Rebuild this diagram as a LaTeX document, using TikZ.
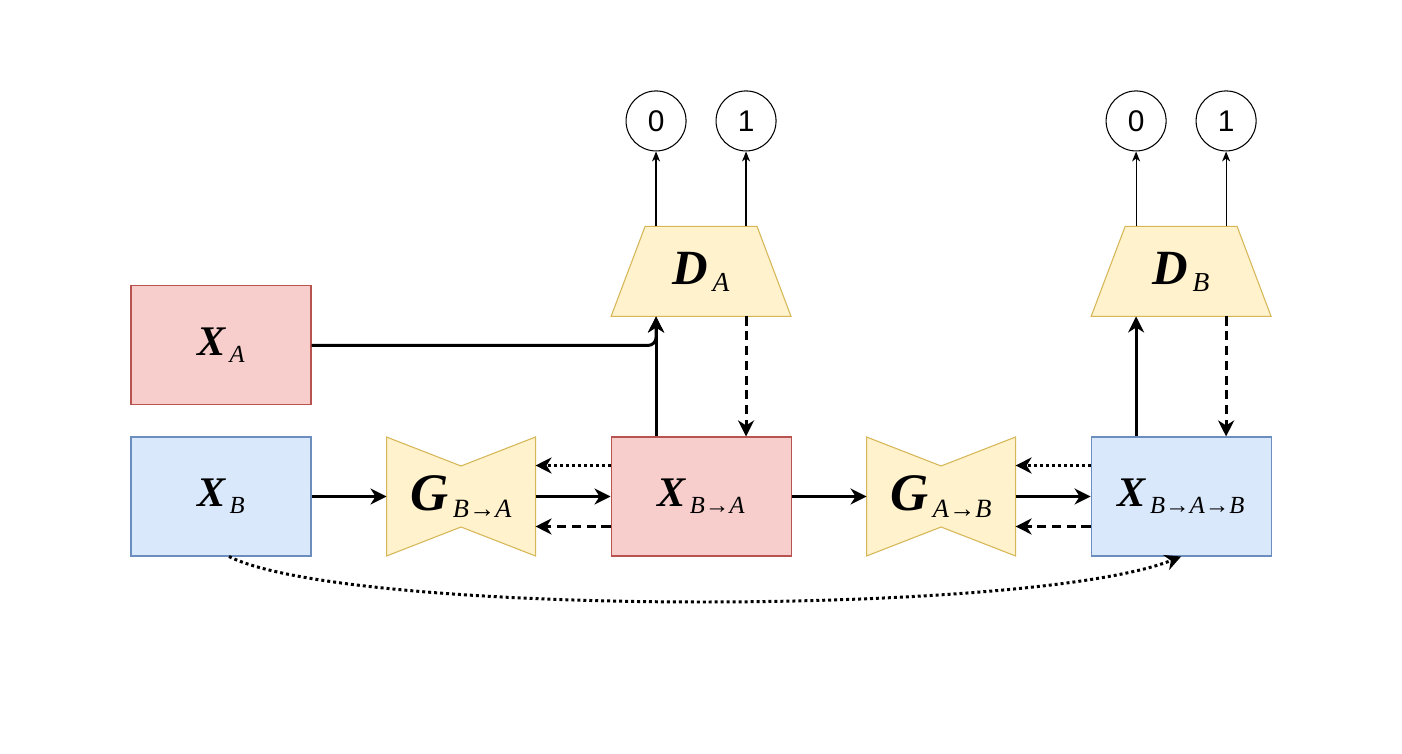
\documentclass[tikz,border=0pt]{standalone}
\usepackage{fontspec}
\setmainfont{Liberation Serif}
\setsansfont{Liberation Sans}
\usepackage{tikz}
\usetikzlibrary{
  arrows.meta,
  positioning,
  calc,
  backgrounds
}
\definecolor{DomainRed}{HTML}{F8CECC}
\definecolor{DomainRedLine}{HTML}{B85450}
\definecolor{DomainBlue}{HTML}{DAE8FC}
\definecolor{DomainBlueLine}{HTML}{6C8EBF}
\definecolor{NetYellow}{HTML}{FFF2CC}
\definecolor{NetYellowLine}{HTML}{D6B656}
\newcommand{\symsub}[3]{{\bfseries\itshape #1}\kern1.2pt\raisebox{-2pt}{\fontsize{#3}{#3}\selectfont\itshape #2}}
\tikzset{
  redbox/.style={draw=DomainRedLine,fill=DomainRed,line width=0.3pt,minimum width=1.8cm,minimum height=1.19cm,font=\fontsize{12}{14}\selectfont},
  bluebox/.style={draw=DomainBlueLine,fill=DomainBlue,line width=0.3pt,minimum width=1.8cm,minimum height=1.19cm,font=\fontsize{12}{14}\selectfont},
  gennode/.style={minimum width=1.49cm,minimum height=1.19cm,inner sep=0pt,outer sep=0pt,font=\fontsize{15}{17}\selectfont},
  discnode/.style={minimum width=1.8cm,minimum height=0.9cm,inner sep=0pt,outer sep=0pt,font=\fontsize{14}{16}\selectfont},
  netshape/.style={draw=NetYellowLine,fill=NetYellow,line width=0.3pt},
  outnode/.style={circle,draw,line width=0.3pt,minimum size=0.6cm,inner sep=0pt,font=\sffamily\fontsize{8.5}{10}\selectfont},
  fwdarrow/.style={-{Stealth[length=1.6mm,width=1.6mm,inset=0.5mm]},line width=0.85pt},
  backarrow/.style={fwdarrow,dash pattern=on 2.6pt off 1.6pt},
  cyclearrow/.style={fwdarrow,dash pattern=on 0.85pt off 0.85pt},
  probarrow/.style={-{Stealth[length=1mm,width=0.8mm,inset=0.3mm]},line width=0.35pt}
}

\begin{document}
\begin{tikzpicture}[node distance=7.5mm and 7.5mm]
\useasboundingbox (0,0) rectangle (14.02,-7.54);
\node[bluebox] (xb) at (2.21,-4.965) {\symsub{X}{B}{7}};
\node[redbox, above=3.1mm of xb] (xa) {\symsub{X}{A}{7}};
\node[gennode, right=of xb] (gba) {\symsub{G}{B→A}{7.5}};
\node[redbox, right=of gba] (xba) {\symsub{X}{B→A}{7}};
\node[gennode, right=of xba] (gab) {\symsub{G}{A→B}{7.5}};
\node[bluebox, right=of gab] (xbab) {\symsub{X}{B→A→B}{7}};
\node[discnode, above=12mm of xba] (da) {\symsub{D}{A}{7.8}};
\node[discnode, above=12mm of xbab] (db) {\symsub{D}{B}{7.8}};
\node[outnode, above=7.5mm of da.north, xshift=-4.5mm] (da0) {0};
\node[outnode, above=7.5mm of da.north, xshift=4.5mm] (da1) {1};
\node[outnode, above=7.5mm of db.north, xshift=-4.5mm] (db0) {0};
\node[outnode, above=7.5mm of db.north, xshift=4.5mm] (db1) {1};

\begin{scope}[on background layer]
\foreach \g in {gba,gab}
  \draw[netshape] (\g.north west) -- ([yshift=-2.9mm]\g.north) -- (\g.north east)
    -- (\g.south east) -- ([yshift=2.9mm]\g.south) -- (\g.south west) -- cycle;
\foreach \d in {da,db}
  \draw[netshape] (\d.south west) -- ([xshift=3.4mm]\d.north west)
    -- ([xshift=-3.4mm]\d.north east) -- (\d.south east) -- cycle;
\end{scope}

\draw[fwdarrow] (xb) -- (gba);
\draw[fwdarrow] (gba) -- (xba);
\draw[fwdarrow] (xba) -- (gab);
\draw[fwdarrow] (gab) -- (xbab);
\draw[cyclearrow] ([yshift=3.1mm]xba.west) -- ([yshift=3.1mm]gba.east);
\draw[backarrow] ([yshift=-3mm]xba.west) -- ([yshift=-3mm]gba.east);
\draw[cyclearrow] ([yshift=3.1mm]xbab.west) -- ([yshift=3.1mm]gab.east);
\draw[backarrow] ([yshift=-3mm]xbab.west) -- ([yshift=-3mm]gab.east);

\draw[fwdarrow,rounded corners=0.8mm] (xa) -| ([xshift=-4.5mm]da.south);
\draw[fwdarrow] ([xshift=-4.5mm]xba.north) -- ([xshift=-4.5mm]da.south);
\draw[backarrow] ([xshift=4.5mm]da.south) -- ([xshift=4.5mm]xba.north);
\draw[fwdarrow] ([xshift=-4.5mm]xbab.north) -- ([xshift=-4.5mm]db.south);
\draw[backarrow] ([xshift=4.5mm]db.south) -- ([xshift=4.5mm]xbab.north);

\draw[probarrow] (da0 |- da.north) -- (da0);
\draw[probarrow] (da1 |- da.north) -- (da1);
\draw[probarrow] (db0 |- db.north) -- (db0);
\draw[probarrow] (db1 |- db.north) -- (db1);

\draw[cyclearrow] ([xshift=0.8mm]xb.south) .. controls +(1.2,-0.6) and +(-1.5,-0.6) .. (xbab.south);
\end{tikzpicture}
\end{document}
